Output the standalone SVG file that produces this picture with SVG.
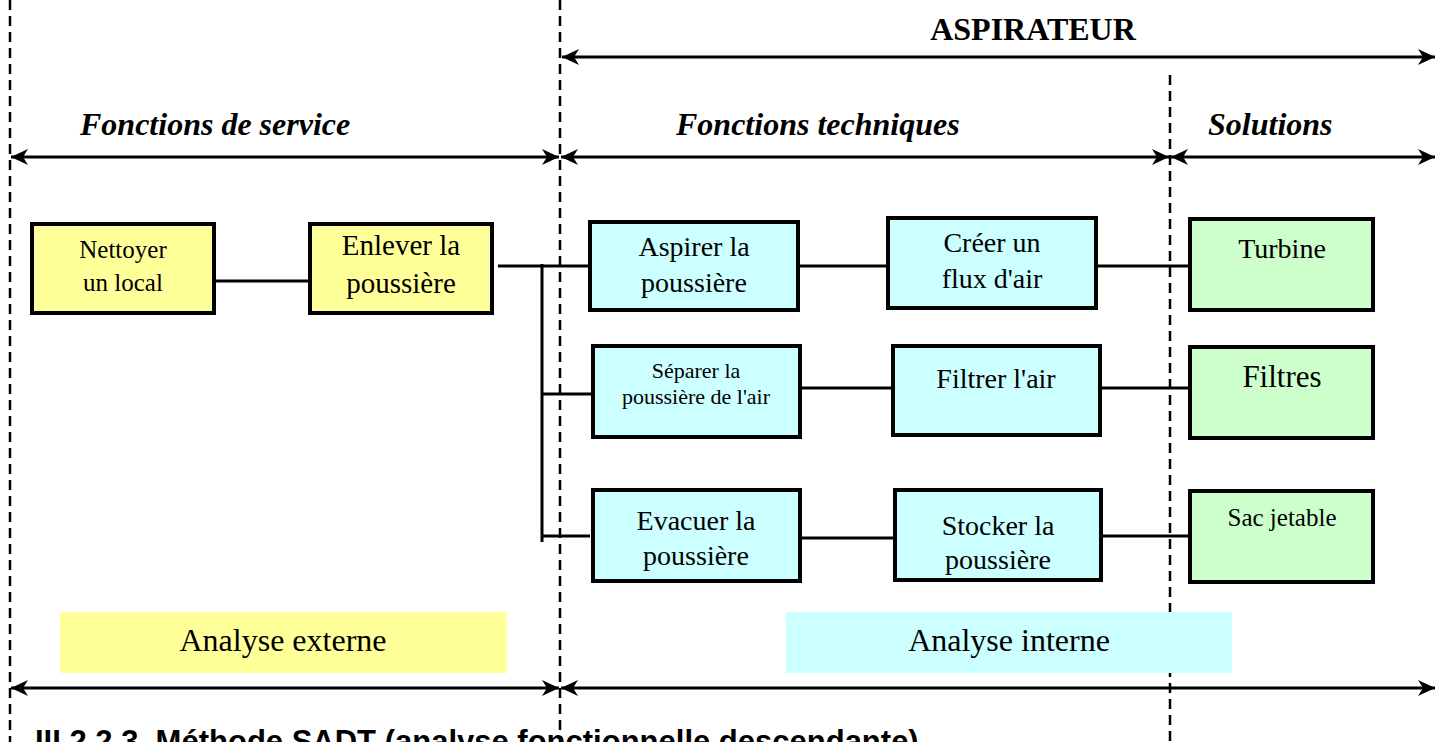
<svg xmlns="http://www.w3.org/2000/svg" width="1436" height="742" viewBox="0 0 1436 742">
<style>
.dash{stroke:#000;stroke-width:2.5;stroke-dasharray:10 6;fill:none}
.arr{stroke:#000;stroke-width:3;fill:none;marker-start:url(#ah);marker-end:url(#ah)}
.con{stroke:#000;stroke-width:3;fill:none}
.box{stroke:#000;stroke-width:4}
.y{fill:#FFFF99}.c{fill:#CCFFFF}.g{fill:#CCFFCC}
.t{font-family:"Liberation Serif","Times New Roman",serif;fill:#000;text-anchor:middle}
.h{font-family:"Liberation Serif","Times New Roman",serif;font-weight:bold;font-style:italic;font-size:32px;fill:#000}
</style>
<defs>
<marker id="ah" markerUnits="userSpaceOnUse" markerWidth="18" markerHeight="16" refX="17" refY="8" orient="auto-start-reverse" viewBox="0 0 18 16">
<path d="M0,0 L17,8 L0,16 L5,8 z" fill="#000"/>
</marker>
</defs>
<rect width="1436" height="742" fill="#fff"/>
<g id="guides">
<line class="dash" x1="10" y1="0" x2="10" y2="742"/>
<line class="dash" x1="560" y1="0" x2="560" y2="742"/>
<line class="dash" x1="1170" y1="75" x2="1170" y2="742"/>
</g>
<g id="bands">
<rect x="60" y="612" width="447" height="61" fill="#FFFF99"/>
<rect x="786" y="612" width="446" height="61" fill="#CCFFFF"/>
<text class="t" x="283" y="651" font-size="32">Analyse externe</text>
<text class="t" x="1009" y="651" font-size="32">Analyse interne</text>
</g>
<g id="headers">
<text x="1033" y="40" font-family="Liberation Serif,Times New Roman,serif" font-weight="bold" font-size="32" text-anchor="middle">ASPIRATEUR</text>
<text class="h" x="80" y="135">Fonctions de service</text>
<text class="h" x="676" y="135">Fonctions techniques</text>
<text class="h" x="1208" y="135">Solutions</text>
</g>
<g id="spans">
<line class="arr" x1="562" y1="57" x2="1435" y2="57"/>
<line class="arr" x1="11" y1="157" x2="559" y2="157"/>
<line class="arr" x1="561" y1="157" x2="1169" y2="157"/>
<line class="arr" x1="1171" y1="157" x2="1435" y2="157"/>
<line class="arr" x1="11" y1="688" x2="559" y2="688"/>
<line class="arr" x1="561" y1="688" x2="1435" y2="688"/>
</g>
<g id="connectors">
<line class="con" x1="214" y1="281" x2="310" y2="281"/>
<line class="con" x1="498" y1="266" x2="590" y2="266"/>
<line class="con" x1="542" y1="264" x2="542" y2="542"/>
<line class="con" x1="542" y1="394" x2="593" y2="394"/>
<line class="con" x1="542" y1="536" x2="590" y2="536"/>
<line class="con" x1="798" y1="266" x2="888" y2="266"/>
<line class="con" x1="1096" y1="266" x2="1190" y2="266"/>
<line class="con" x1="800" y1="388" x2="893" y2="388"/>
<line class="con" x1="1100" y1="388" x2="1190" y2="388"/>
<line class="con" x1="800" y1="538" x2="895" y2="538"/>
<line class="con" x1="1101" y1="536" x2="1197" y2="536"/>
</g>
<g id="n-nettoyer">
<rect class="box y" x="32" y="224" width="182" height="89"/>
<text class="t" x="123" y="258" font-size="25">Nettoyer</text>
<text class="t" x="123" y="291" font-size="25">un local</text>
</g>
<g id="n-enlever">
<rect class="box y" x="310" y="224" width="182" height="89"/>
<text class="t" x="401" y="255" font-size="29">Enlever la</text>
<text class="t" x="401" y="293" font-size="29">poussière</text>
</g>
<g id="n-aspirer">
<rect class="box c" x="590" y="222" width="208" height="88"/>
<text class="t" x="694" y="256" font-size="28">Aspirer la</text>
<text class="t" x="694" y="292" font-size="28">poussière</text>
</g>
<g id="n-creer">
<rect class="box c" x="888" y="218" width="208" height="90"/>
<text class="t" x="992" y="252" font-size="28">Créer un</text>
<text class="t" x="992" y="288" font-size="28">flux d'air</text>
</g>
<g id="n-separer">
<rect class="box c" x="593" y="346" width="207" height="91"/>
<text class="t" x="696" y="378" font-size="22">Séparer la</text>
<text class="t" x="696" y="404" font-size="22">poussière de l'air</text>
</g>
<g id="n-filtrer">
<rect class="box c" x="893" y="346" width="207" height="89"/>
<text class="t" x="996" y="388" font-size="28">Filtrer l'air</text>
</g>
<g id="n-evacuer">
<rect class="box c" x="593" y="490" width="207" height="91"/>
<text class="t" x="696" y="530" font-size="28">Evacuer la</text>
<text class="t" x="696" y="565" font-size="28">poussière</text>
</g>
<g id="n-stocker">
<rect class="box c" x="895" y="490" width="206" height="90"/>
<text class="t" x="998" y="535" font-size="28">Stocker la</text>
<text class="t" x="998" y="569" font-size="28">poussière</text>
</g>
<g id="n-turbine">
<rect class="box g" x="1190" y="219" width="183" height="91"/>
<text class="t" x="1282" y="258" font-size="28">Turbine</text>
</g>
<g id="n-filtres">
<rect class="box g" x="1190" y="347" width="183" height="91"/>
<text class="t" x="1282" y="387" font-size="31">Filtres</text>
</g>
<g id="n-sac">
<rect class="box g" x="1190" y="491" width="183" height="91"/>
<text class="t" x="1282" y="526" font-size="25">Sac jetable</text>
</g>
<text x="35" y="752" font-family="Liberation Sans,Arial,sans-serif" font-weight="bold" font-size="31">III.2.2.3. Méthode SADT (analyse fonctionnelle descendante)</text>
</svg>
